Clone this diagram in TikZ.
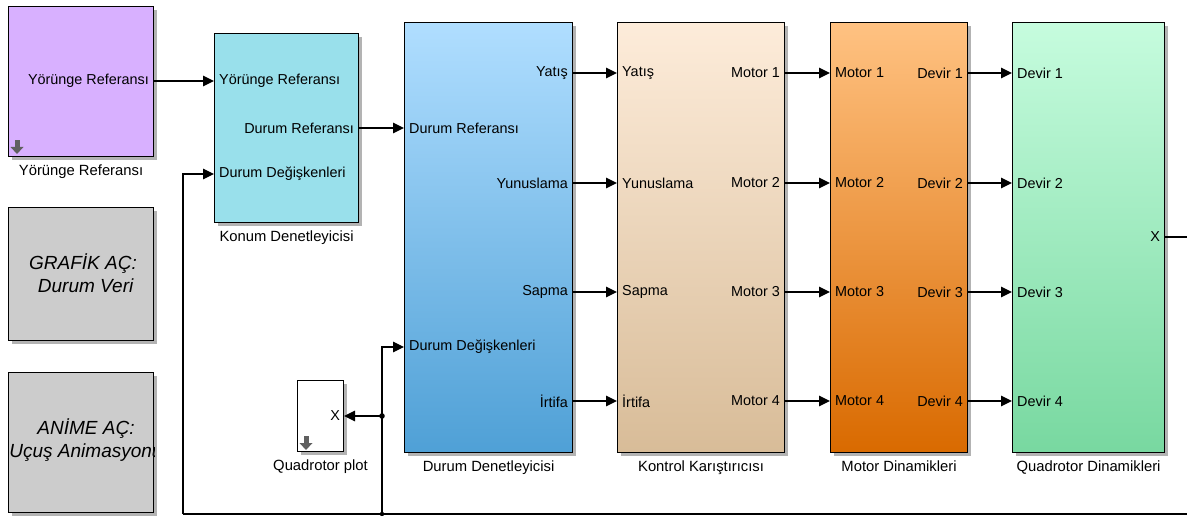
\documentclass[tikz,border=0pt]{standalone}
\usepackage{fontspec}
\setmainfont{Liberation Sans}
\usetikzlibrary{arrows.meta,shadows,calc}
\definecolor{cyr}{RGB}{216,176,255}
\definecolor{cgr}{RGB}{204,204,204}
\definecolor{ckd}{RGB}{153,224,235}
\definecolor{cddT}{RGB}{176,222,255}
\definecolor{cddB}{RGB}{79,160,214}
\definecolor{ckkT}{RGB}{253,236,218}
\definecolor{ckkB}{RGB}{216,188,152}
\definecolor{cmdT}{RGB}{255,194,130}
\definecolor{cmdB}{RGB}{217,106,0}
\definecolor{cqdT}{RGB}{198,252,222}
\definecolor{cqdB}{RGB}{120,216,160}
\newcommand\portfont{\fontsize{14.4}{17}\selectfont}
\newcommand\labfont{\fontsize{14.8}{17}\selectfont}
\newcommand\bigitfont{\fontsize{19}{23.5}\selectfont\itshape}
\begin{document}
\begin{tikzpicture}[x=1pt,y=-1pt,
  blk/.style={draw=black, line width=1.1pt, inner sep=0pt, anchor=north west,
    drop shadow={shadow xshift=3pt, shadow yshift=-3pt, opacity=0.6}},
  portin/.style={anchor=west, xshift=5pt, font=\portfont, inner sep=0pt},
  portout/.style={anchor=east, xshift=-5pt, font=\portfont, inner sep=0pt},
  blabel/.style={anchor=north, yshift=-7pt, font=\labfont, inner sep=0pt},
  sig/.style={line width=1.7pt, -{Triangle[length=11pt,width=10.5pt]}},
  tsig/.style={line width=1.1pt, -{Triangle[length=11pt,width=10.5pt]}},
  dnicon/.pic={\fill[gray!75!black] (-2.5,0) rectangle (2.5,7);
               \fill[gray!75!black] (-6.5,7) -- (6.5,7) -- (0,14) -- cycle;}
]
\useasboundingbox (0,0) rectangle (1187,516);

% Blocks
\node[blk, fill=cyr, minimum width=145pt, minimum height=150pt] (yr) at (8,6) {};
\node[blk, fill=cgr, minimum width=145pt, minimum height=133pt] (gr) at (8,207) {};
\node[blk, fill=cgr, minimum width=145pt, minimum height=140pt] (an) at (8,372) {};
\node[blk, fill=ckd, minimum width=144pt, minimum height=189pt] (kd) at (214,33) {};
\node[blk, top color=cddT, bottom color=cddB, minimum width=168pt, minimum height=430pt] (dd) at (404,22) {};
\node[blk, top color=ckkT, bottom color=ckkB, minimum width=167pt, minimum height=430pt] (kk) at (617,22) {};
\node[blk, top color=cmdT, bottom color=cmdB, minimum width=137pt, minimum height=430pt] (md) at (830,22) {};
\node[blk, top color=cqdT, bottom color=cqdB, minimum width=152pt, minimum height=430pt] (qd) at (1012,22) {};
\node[blk, fill=white, minimum width=46pt, minimum height=71pt] (qp) at (297,380) {};

% icons
\pic at (17,140) {dnicon};
\pic at (306,436) {dnicon};

% gray block texts
\node[font=\bigitfont, align=center, inner sep=0pt] (grt) at (83,273) {GRAFİK AÇ:\\ \ Durum Veri};
\begin{scope}
\clip (an.north west) rectangle (an.south east);
\node[font=\bigitfont, align=center, inner sep=0pt] (ant) at (86,440) {ANİME AÇ:\\Uçuş Animasyonu};
\end{scope}

% labels below blocks
\node[blabel] (yrl) at (yr.south) {Yörünge Referansı};
\node[blabel] (kdl) at (kd.south) {Konum Denetleyicisi};
\node[blabel] (ddl) at (dd.south) {Durum Denetleyicisi};
\node[blabel] (kkl) at (kk.south) {Kontrol Karıştırıcısı};
\node[blabel] (mdl) at (md.south) {Motor Dinamikleri};
\node[blabel] (qdl) at (qd.south) {Quadrotor Dinamikleri};
\node[blabel] (qpl) at (qp.south) {Quadrotor plot};

% port labels
\node[portout] (yro) at (yr.east |- 0,81) {Yörünge Referansı};
\node[portin] (kdi1) at (kd.west |- 0,81) {Yörünge Referansı};
\node[portin] (kdi2) at (kd.west |- 0,174) {Durum Değişkenleri};
\node[portout] (kdo) at (kd.east |- 0,128) {Durum Referansı};
\node[portin] (ddi1) at (dd.west |- 0,128) {Durum Referansı};
\node[portin] (ddi2) at (dd.west |- 0,347) {Durum Değişkenleri};
\node[portout] (ddo1) at (dd.east |- 0,73) {Yatış};
\node[portout] (ddo2) at (dd.east |- 0,183) {Yunuslama};
\node[portout] (ddo3) at (dd.east |- 0,292) {Sapma};
\node[portout] (ddo4) at (dd.east |- 0,401) {İrtifa};
\node[portin] (kki1) at (kk.west |- 0,73) {Yatış};
\node[portin] (kki2) at (kk.west |- 0,183) {Yunuslama};
\node[portin] (kki3) at (kk.west |- 0,292) {Sapma};
\node[portin] (kki4) at (kk.west |- 0,401) {İrtifa};
\node[portout] (kko1) at (kk.east |- 0,73) {Motor 1};
\node[portout] (kko2) at (kk.east |- 0,183) {Motor 2};
\node[portout] (kko3) at (kk.east |- 0,292) {Motor 3};
\node[portout] (kko4) at (kk.east |- 0,401) {Motor 4};
\node[portin] (mdi1) at (md.west |- 0,73) {Motor 1};
\node[portin] (mdi2) at (md.west |- 0,183) {Motor 2};
\node[portin] (mdi3) at (md.west |- 0,292) {Motor 3};
\node[portin] (mdi4) at (md.west |- 0,401) {Motor 4};
\node[portout] (mdo1) at (md.east |- 0,73) {Devir 1};
\node[portout] (mdo2) at (md.east |- 0,183) {Devir 2};
\node[portout] (mdo3) at (md.east |- 0,292) {Devir 3};
\node[portout] (mdo4) at (md.east |- 0,401) {Devir 4};
\node[portin] (qdi1) at (qd.west |- 0,73) {Devir 1};
\node[portin] (qdi2) at (qd.west |- 0,183) {Devir 2};
\node[portin] (qdi3) at (qd.west |- 0,292) {Devir 3};
\node[portin] (qdi4) at (qd.west |- 0,401) {Devir 4};
\node[portout] (qdo) at (qd.east |- 0,237) {X};
\node[portout, xshift=1pt] (qpi) at (qp.east |- 0,416) {X};

% connectors
\draw[sig] (yr.east |- 0,81) -- (kd.west |- 0,81);
\draw[sig] (kd.east |- 0,128) -- (dd.west |- 0,128);
\foreach \yy in {73,183,292,401}{
  \draw[sig] (dd.east |- 0,\yy) -- (kk.west |- 0,\yy);
  \draw[sig] (kk.east |- 0,\yy) -- (md.west |- 0,\yy);
  \draw[sig] (md.east |- 0,\yy) -- (qd.west |- 0,\yy);
}
% feedback
\coordinate (redge) at (1187,237);
\coordinate (bedge) at (1187,514);
\coordinate (fbl) at (183,514);
\coordinate (jb) at (382,514);
\coordinate (jm) at (382,416);
\coordinate (jt) at (382,347);
\draw[line width=1.1pt] (qd.east |- redge) -- (redge);
\draw[line width=1.7pt] (bedge) -- (jb) -- (fbl);
\draw[tsig] (fbl) |- (kd.west |- 0,174);
\draw[line width=1.7pt] (jb) -- (jm);
\draw[sig] (jm) -- (qp.east |- jm);
\draw[tsig] (jm) |- (dd.west |- jt);
\fill (jm) circle (2.8);
\fill (jb) circle (2.2);
\end{tikzpicture}
\end{document}
